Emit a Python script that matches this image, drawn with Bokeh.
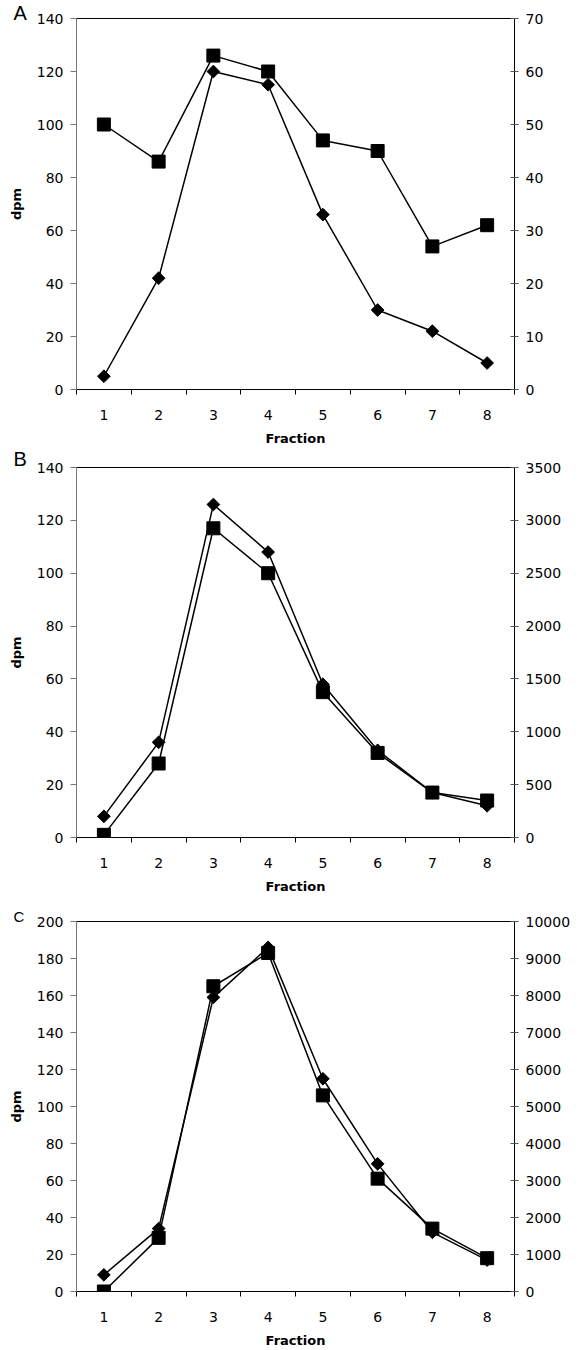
import numpy as np
from bokeh.plotting import figure
from bokeh.models import Range1d, LinearAxis, FixedTicker, Title
from bokeh.layouts import column
from bokeh.embed import file_html
from bokeh.resources import INLINE

fractions = [1, 2, 3, 4, 5, 6, 7, 8]
fraction_labels = ["1", "2", "3", "4", "5", "6", "7", "8"]

# Panel A
a_diamond = [5, 42, 120, 115, 66, 30, 22, 10]          # left axis (dpm)
a_square = [50, 43, 63, 60, 47, 45, 27, 31]             # right axis
a_left_ticks = [0, 20, 40, 60, 80, 100, 120, 140]
a_right_ticks = [0, 10, 20, 30, 40, 50, 60, 70]

# Panel B
b_diamond = [8, 36, 126, 108, 58, 33, 17, 12]
b_square = [25, 700, 2925, 2500, 1375, 800, 425, 350]
b_left_ticks = [0, 20, 40, 60, 80, 100, 120, 140]
b_right_ticks = [0, 500, 1000, 1500, 2000, 2500, 3000, 3500]

# Panel C
c_diamond = [9, 34, 159, 186, 115, 69, 32, 17]
c_square = [0, 1450, 8250, 9150, 5300, 3050, 1700, 900]
c_left_ticks = [0, 20, 40, 60, 80, 100, 120, 140, 160, 180, 200]
c_right_ticks = [0, 1000, 2000, 3000, 4000, 5000, 6000, 7000, 8000, 9000, 10000]

FONT = "DejaVu Sans"
TICK_SIZE = "14px"


def make_panel(letter, letter_size, letter_standoff, dia, sq, lticks, rticks,
               height, top, bottom, right):
    W = 580
    left = 76
    p = figure(width=W, height=height, output_backend="svg", toolbar_location=None,
               x_range=Range1d(0.5, 8.5), y_range=Range1d(lticks[0], lticks[-1]),
               min_border_left=left, min_border_right=right,
               min_border_top=top, min_border_bottom=bottom)
    p.background_fill_color = "white"
    p.border_fill_color = "white"
    p.outline_line_color = "black"
    p.outline_line_width = 1
    p.xgrid.visible = False
    p.ygrid.visible = False

    # x axis
    xa = p.xaxis[0]
    xa.ticker = FixedTicker(ticks=fractions,
                            minor_ticks=[0.5 + i for i in range(9)])
    xa.major_label_overrides = {f: l for f, l in zip(fractions, fraction_labels)}
    xa.major_tick_out = 0
    xa.major_tick_in = 0
    xa.minor_tick_out = 5
    xa.minor_tick_in = 0
    xa.minor_tick_line_color = "black"
    xa.axis_line_color = "black"
    xa.major_label_text_font = FONT
    xa.major_label_text_font_size = TICK_SIZE
    xa.major_label_text_color = "black"
    xa.major_label_standoff = 15
    xa.axis_label = "Fraction"
    xa.axis_label_text_font = FONT
    xa.axis_label_text_font_style = "bold"
    xa.axis_label_text_font_size = "13px"
    xa.axis_label_text_color = "black"
    xa.axis_label_standoff = 8

    # left y axis
    ya = p.yaxis[0]
    ya.ticker = FixedTicker(ticks=lticks, minor_ticks=[])
    ya.major_tick_out = 6
    ya.major_tick_in = 0
    ya.minor_tick_out = 0
    ya.minor_tick_in = 0
    ya.axis_line_color = "#777777"
    ya.major_tick_line_color = "#777777"
    ya.major_label_text_font = FONT
    ya.major_label_text_font_size = TICK_SIZE
    ya.major_label_text_color = "black"
    ya.major_label_standoff = 7
    ya.axis_label = "dpm"
    ya.axis_label_text_font = FONT
    ya.axis_label_text_font_style = "bold"
    ya.axis_label_text_font_size = "13px"
    ya.axis_label_text_color = "black"
    ya.axis_label_standoff = 10

    # right y axis
    p.extra_y_ranges = {"r": Range1d(rticks[0], rticks[-1])}
    ra = LinearAxis(y_range_name="r", ticker=FixedTicker(ticks=rticks, minor_ticks=[]))
    ra.major_tick_out = 4
    ra.major_tick_in = 4
    ra.minor_tick_out = 0
    ra.minor_tick_in = 0
    ra.axis_line_color = "black"
    ra.major_tick_line_color = "#555555"
    ra.major_label_text_font = FONT
    ra.major_label_text_font_size = TICK_SIZE
    ra.major_label_text_color = "black"
    ra.major_label_standoff = 7
    p.add_layout(ra, "right")

    # series
    p.line(fractions, sq, y_range_name="r", line_color="black", line_width=1.5)
    p.scatter(fractions, sq, y_range_name="r", marker="square", size=13,
              fill_color="black", line_color="black")
    p.line(fractions, dia, line_color="black", line_width=1.5)
    p.scatter(fractions, dia, marker="square", angle=np.pi / 4, size=9,
              fill_color="black", line_color="black")

    # panel letter as a left-aligned title shifted to the page's left edge
    p.add_layout(Title(text=letter, align="left", offset=13 - left,
                       standoff=letter_standoff, text_font="Liberation Sans",
                       text_font_size=letter_size, text_font_style="normal",
                       text_color="black"), "above")
    return p


pa = make_panel("A", "20px", -11, a_diamond, a_square, a_left_ticks, a_right_ticks,
                448, 18, 59, 35)
pb = make_panel("B", "20px", -5, b_diamond, b_square, b_left_ticks, b_right_ticks,
                448, 18, 59, 53)
pc = make_panel("C", "15px", -7, c_diamond, c_square, c_left_ticks, c_right_ticks,
                454, 25, 59, 66)

layout = column(pa, pb, pc, spacing=0)
open("out.html", "w").write(file_html(layout, INLINE))
